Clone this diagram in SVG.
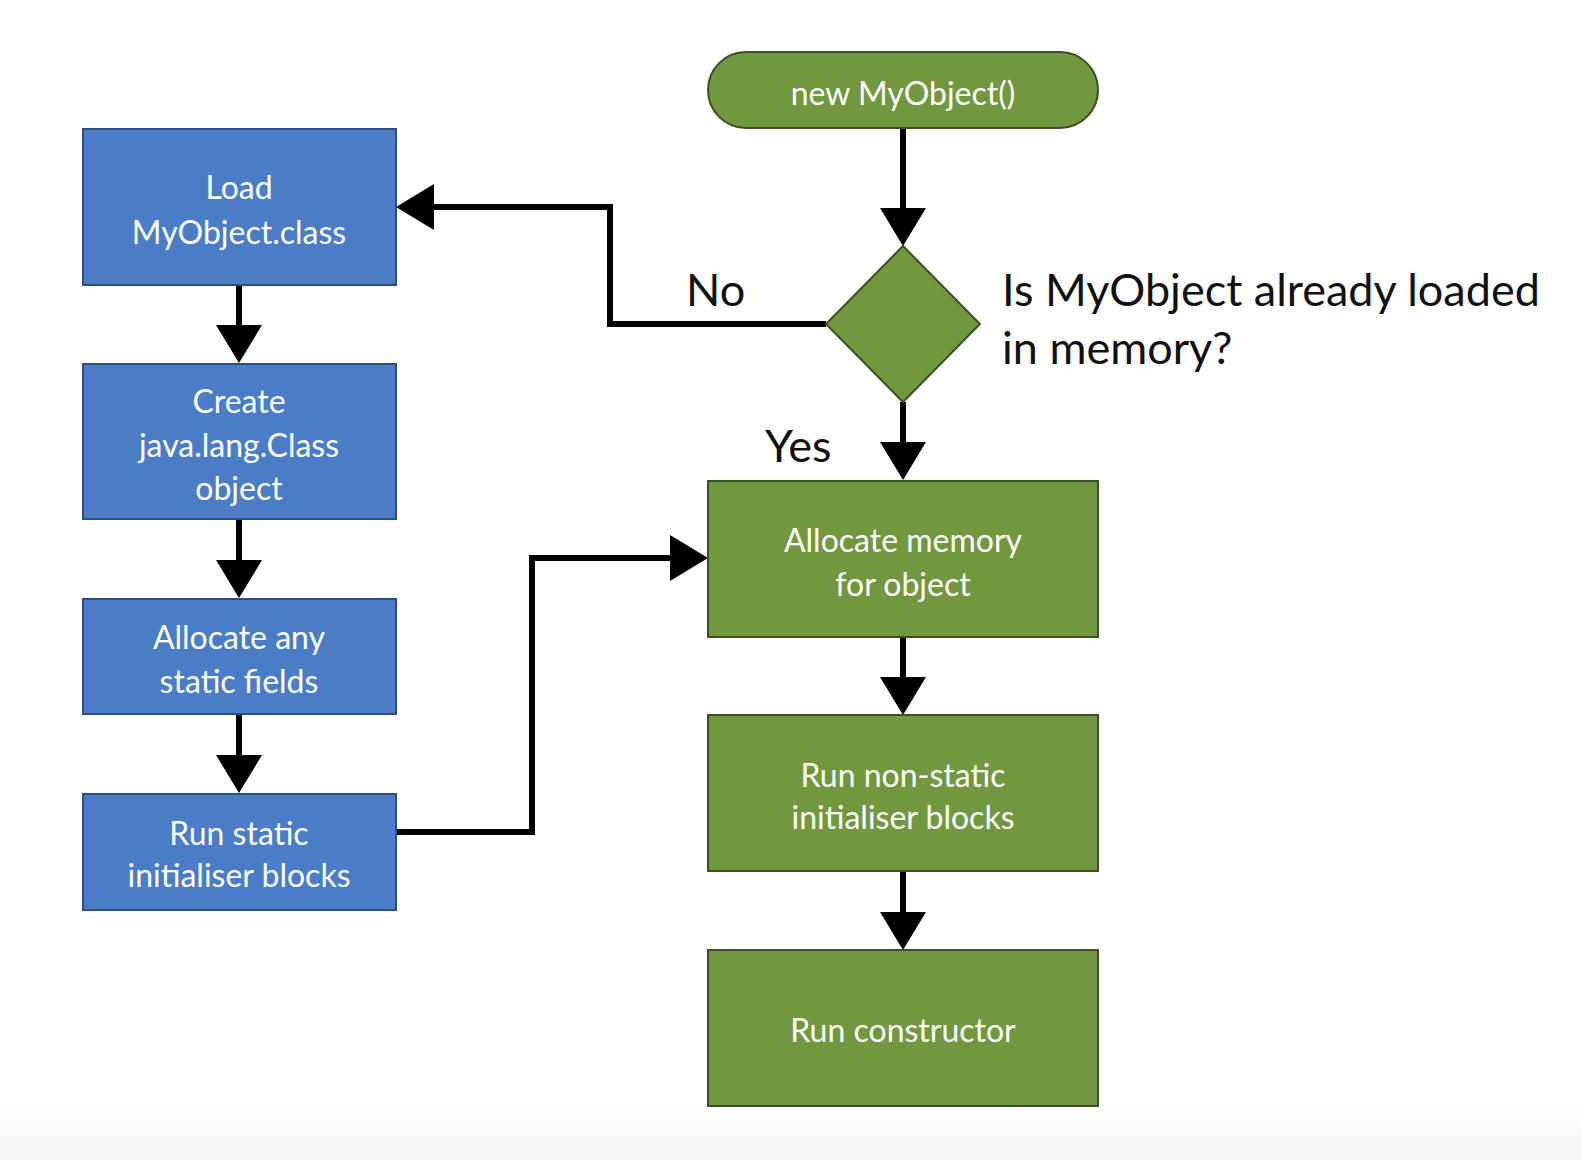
<svg xmlns="http://www.w3.org/2000/svg" width="1582" height="1160" viewBox="0 0 1582 1160">
<defs>
<style>
.blue{fill:#4A7DC6;stroke:#2E4E80;stroke-width:2}
.green{fill:#71983F;stroke:#3A4F22;stroke-width:2}
.lbl{font-family:Lato,"Open Sans","Liberation Sans",sans-serif;font-size:32px;fill:#FFFFFF;text-anchor:middle}
.q{font-family:Lato,"Open Sans","Liberation Sans",sans-serif;font-size:45px;fill:#111111}
.conn{fill:none;stroke:#000000;stroke-width:6}
.head{fill:#000000}
</style>
<linearGradient id="bg" x1="0" y1="0" x2="0" y2="1">
<stop offset="0" stop-color="#FFFFFF"/>
<stop offset="1" stop-color="#F4F4F4"/>
</linearGradient>
</defs>
<rect x="0" y="0" width="1582" height="1160" fill="#FFFFFF"/>
<rect x="0" y="1105" width="1582" height="55" fill="url(#bg)"/>

<g id="connectors">
<path class="conn" d="M903,128 V212"/>
<polygon class="head" points="880,208 926,208 903,246"/>
<path class="conn" d="M903,402 V444"/>
<polygon class="head" points="880,442 926,442 903,480"/>
<path class="conn" d="M826,324 H610 V207 H430"/>
<polygon class="head" points="434,184 434,230 396,207"/>
<path class="conn" d="M239,285 V328"/>
<polygon class="head" points="216,325 262,325 239,363"/>
<path class="conn" d="M239,519 V563"/>
<polygon class="head" points="216,560 262,560 239,598"/>
<path class="conn" d="M239,714 V758"/>
<polygon class="head" points="216,755 262,755 239,793"/>
<path class="conn" d="M396,832 H532 V558 H674"/>
<polygon class="head" points="670,535 670,581 708,558"/>
<path class="conn" d="M903,637 V680"/>
<polygon class="head" points="880,677 926,677 903,715"/>
<path class="conn" d="M903,871 V915"/>
<polygon class="head" points="880,912 926,912 903,950"/>
<text class="q" x="686" y="306">No</text>
<text class="q" x="765" y="462">Yes</text>
</g>

<g id="start">
<rect class="green" x="708" y="52" width="390" height="76" rx="38" ry="38"/>
<text class="lbl" x="903" y="105">new MyObject()</text>
</g>

<g id="decision">
<polygon class="green" points="903,246 980,324 903,402 826,324"/>
<text class="q" x="1002" y="306">Is MyObject already loaded</text>
<text class="q" x="1002" y="364">in memory?</text>
</g>

<g id="load">
<rect class="blue" x="83" y="129" width="313" height="156"/>
<text class="lbl" x="239" y="199">Load</text>
<text class="lbl" x="239" y="244">MyObject.class</text>
</g>

<g id="create">
<rect class="blue" x="83" y="364" width="313" height="155"/>
<text class="lbl" x="239" y="413">Create</text>
<text class="lbl" x="239" y="457">java.lang.Class</text>
<text class="lbl" x="239" y="500">object</text>
</g>

<g id="staticfields">
<rect class="blue" x="83" y="599" width="313" height="115"/>
<text class="lbl" x="239" y="649">Allocate any</text>
<text class="lbl" x="239" y="693">static fields</text>
</g>

<g id="staticinit">
<rect class="blue" x="83" y="794" width="313" height="116"/>
<text class="lbl" x="239" y="845">Run static</text>
<text class="lbl" x="239" y="887">initialiser blocks</text>
</g>

<g id="allocate">
<rect class="green" x="708" y="481" width="390" height="156"/>
<text class="lbl" x="903" y="552">Allocate memory</text>
<text class="lbl" x="903" y="596">for object</text>
</g>

<g id="nonstatic">
<rect class="green" x="708" y="715" width="390" height="156"/>
<text class="lbl" x="903" y="787">Run non-static</text>
<text class="lbl" x="903" y="829">initialiser blocks</text>
</g>

<g id="constructor">
<rect class="green" x="708" y="950" width="390" height="156"/>
<text class="lbl" x="903" y="1042">Run constructor</text>
</g>
</svg>
